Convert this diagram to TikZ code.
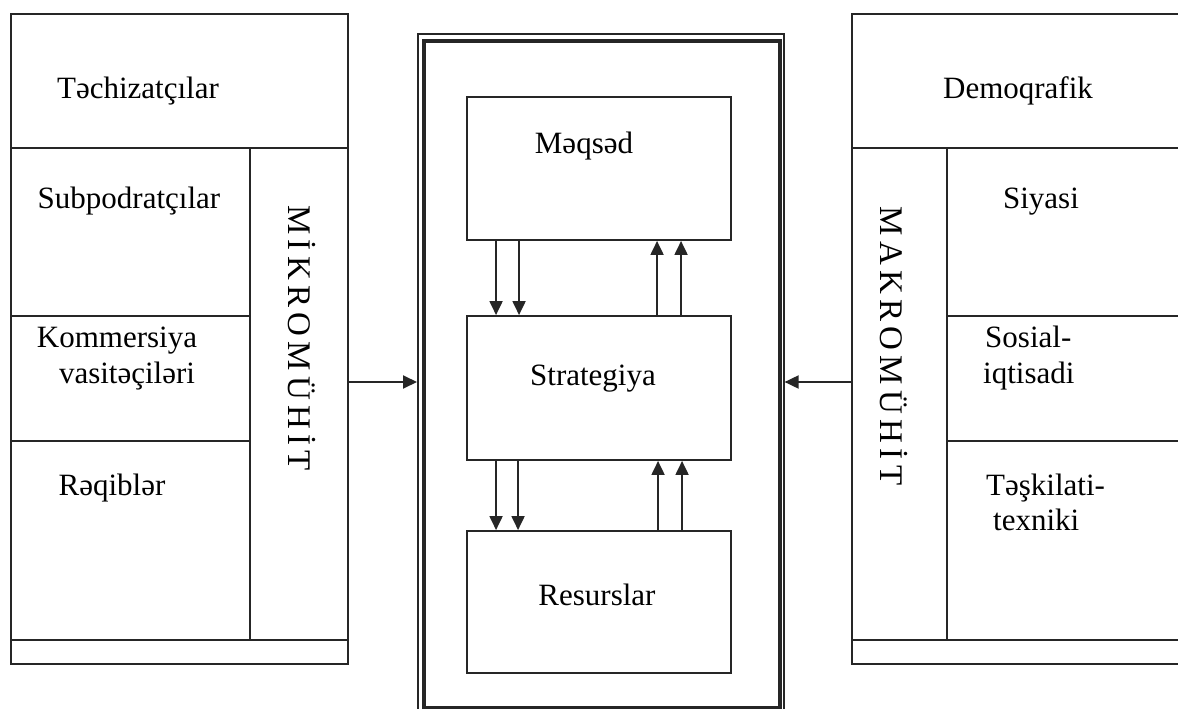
\documentclass[tikz,border=0pt]{standalone}
\usepackage{fontspec}
\setmainfont{Liberation Serif}
\newfontfamily\spacedcaps[LetterSpace=16]{Liberation Serif}
\usetikzlibrary{arrows.meta,calc}

\begin{document}
\begin{tikzpicture}[x=1pt,y=-1pt,
  ln/.style={line width=1.9pt, draw=black!85},
  panel/.style={ln, draw, inner sep=0pt, anchor=north west},
  box/.style={ln, draw, inner sep=0pt, minimum width=264pt},
  lbl/.style={inner sep=0pt, anchor=base, font=\fontsize{31}{36}\selectfont},
  lbll/.style={lbl, anchor=base west},
  vlbl/.style={inner sep=0pt, anchor=base, rotate=-90, font=\fontsize{33}{38}\spacedcaps},
  arr/.style={line width=1.9pt, draw=black!85, -{Triangle[length=14pt,width=13pt]}},
]
\useasboundingbox (0,0) rectangle (1178,709);
\fill[white] (0,0) rectangle (1178,709);
\clip (0,0) rectangle (1178,709);

% ---- micro-environment panel (left) ----
\node[panel, minimum width=337pt, minimum height=650pt] (micro) at (10,13) {};
\draw[ln] (10,148) -- (347,148);
\draw[ln] (250,148) -- (250,640);
\draw[ln] (10,316) -- (250,316);
\draw[ln] (10,441) -- (250,441);
\draw[ln] (10,640) -- (347,640);

\node[lbl] (tech) at (138,99) {Təchizatçılar};
\node[lbl] (subp) at (129,208) {Subpodratçılar};
\node[lbl] (komm1) at (117,347) {Kommersiya};
\node[lbl] (komm2) at (127,383) {vasitəçiləri};
\node[lbl] (reqib) at (112,495) {Rəqiblər};
\node[vlbl] (mikro) at (288,338) {MİKROMÜHİT};

% ---- macro-environment panel (right) ----
\node[panel, minimum width=360pt, minimum height=650pt] (macro) at (851,13) {};
\draw[ln] (851,148) -- (1211,148);
\draw[ln] (947,148) -- (947,640);
\draw[ln] (947,316) -- (1211,316);
\draw[ln] (947,441) -- (1211,441);
\draw[ln] (851,640) -- (1211,640);

\node[lbl] (demo) at (1018,98) {Demoqrafik};
\node[lbl] (siya) at (1041,208) {Siyasi};
\node[lbll] (sos1) at (985,347) {Sosial-};
\node[lbll] (sos2) at (983,383) {iqtisadi};
\node[lbll] (tesk1) at (986,495) {Təşkilati-};
\node[lbll] (tesk2) at (993,530) {texniki};
\node[vlbl] (makro) at (880,346) {MAKROMÜHİT};

% ---- organisation frame (centre), double border ----
\node[panel, line width=1.6pt, minimum width=366pt, minimum height=679pt] (frame) at (417,33) {};
\node[panel, line width=3.6pt, minimum width=356pt, minimum height=667pt] (frameIn) at (422,39) {};

\node[box, minimum height=143pt] (mq) at (599,168.5) {};
\node[box, minimum height=144pt] (st) at (599,388) {};
\node[box, minimum height=142pt] (rs) at (599,602) {};

\node[lbl] (mqt) at (584,153) {Məqsəd};
\node[lbl] (stt) at (593,385) {Strategiya};
\node[lbl] (rst) at (597,605) {Resurslar};

% links between goal, strategy and resources
\foreach \dx in {30,53}
  \draw[arr] ([xshift=\dx pt]mq.south west) -- ([xshift=\dx pt]st.north west);
\foreach \dx in {191,215}
  \draw[arr] ([xshift=\dx pt]st.north west) -- ([xshift=\dx pt]mq.south west);
\foreach \dx in {30,52}
  \draw[arr] ([xshift=\dx pt]st.south west) -- ([xshift=\dx pt]rs.north west);
\foreach \dx in {192,216}
  \draw[arr] ([xshift=\dx pt]rs.north west) -- ([xshift=\dx pt]st.south west);

% environment influences
\coordinate (ay) at (0,382);
\draw[arr] (micro.east |- ay) -- (frame.west |- ay);
\draw[arr] (macro.west |- ay) -- (frame.east |- ay);
\end{tikzpicture}
\end{document}
